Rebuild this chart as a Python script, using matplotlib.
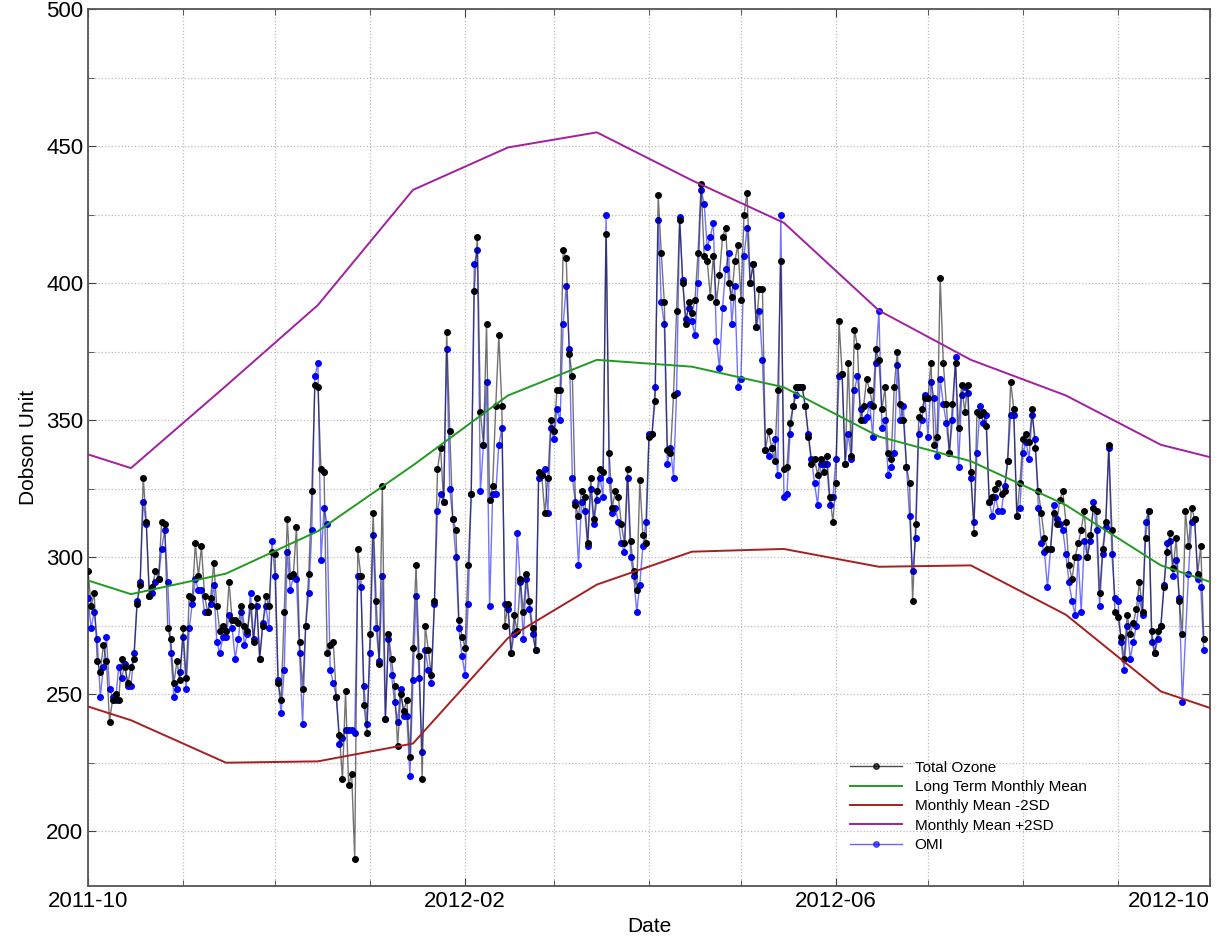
import numpy as np
import pandas as pd
import matplotlib
matplotlib.use("Agg")
import matplotlib.pyplot as plt
import matplotlib.dates as mdates
from matplotlib.ticker import MultipleLocator

plt.rcParams['font.family'] = ['Liberation Sans', 'DejaVu Sans']

# daily total ozone (Dobson Units), starting 2011-10-01
total_ozone = [
    295, 282, 287, 262, 258, 268, 262, 240, 248, 250,
    248, 263, 260, 254, 260, 263, 283, 290, 329, 313,
    286, 289, 295, 292, 313, 312, 274, 270, 254, 262,
    255, 274, 256, 286, 285, 305, 293, 304, 286, 280,
    285, 298, 282, 273, 275, 273, 291, 277, 277, 276,
    282, 275, 273, 282, 269, 285, 263, 275, 286, 282,
    302, 301, 254, 248, 280, 314, 293, 294, 311, 269,
    252, 275, 294, 324, 363, 362, 332, 331, 265, 268,
    269, 249, 235, 219, 251, 217, 221, 190, 303, 293,
    246, 236, 272, 316, 284, 261, 326, 241, 272, 263,
    253, 231, 250, 244, 248, 227, 267, 297, 264, 219,
    275, 266, 257, 284, 332, 340, 320, 382, 346, 314,
    310, 277, 271, 267, 297, 323, 397, 417, 353, 341,
    385, 321, 326, 355, 381, 355, 275, 283, 265, 279,
    273, 292, 280, 294, 284, 274, 266, 331, 330, 316,
    329, 350, 346, 361, 361, 412, 409, 374, 366, 319,
    315, 324, 322, 305, 329, 314, 324, 332, 331, 418,
    338, 318, 324, 322, 312, 305, 332, 306, 295, 288,
    328, 308, 305, 344, 345, 357, 432, 411, 393, 339,
    338, 359, 390, 423, 400, 385, 393, 389, 394, 411,
    436, 410, 408, 395, 410, 393, 403, 417, 420, 400,
    395, 408, 414, 394, 425, 433, 400, 407, 384, 398,
    398, 339, 346, 340, 335, 361, 408, 332, 333, 349,
    355, 362, 362, 362, 355, 344, 334, 336, 330, 336,
    331, 337, 322, 313, 327, 386, 367, 334, 371, 337,
    383, 377, 350, 355, 365, 361, 355, 376, 372, 354,
    362, 338, 336, 362, 375, 356, 350, 333, 327, 284,
    312, 351, 354, 358, 358, 371, 341, 344, 402, 371,
    356, 338, 356, 371, 347, 363, 353, 363, 331, 309,
    353, 352, 353, 348, 320, 322, 325, 327, 323, 324,
    335, 364, 354, 315, 327, 343, 345, 342, 354, 340,
    324, 316, 307, 303, 303, 316, 312, 321, 324, 313,
    297, 292, 300, 305, 310, 317, 300, 308, 318, 317,
    287, 303, 313, 341, 310, 280, 278, 271, 263, 279,
    272, 276, 281, 291, 280, 307, 317, 273, 265, 273,
    275, 289, 302, 309, 296, 307, 284, 272, 317, 304,
    318, 314, 294, 304, 270,
]

# daily OMI satellite values, same days (None = no overpass)
omi = [
    285, 274, 280, 270, 249, 260, 271, 252, 249, 248,
    260, 256, 261, 253, 253, 265, 284, 291, 320, 312,
    286, 287, 291, 292, 303, 310, 291, 265, 249, 252,
    258, 271, 252, 274, 283, 292, 288, 288, 280, 280,
    283, 290, 269, 265, 271, 271, 279, 274, 263, 270,
    280, 268, 272, 287, 270, 282, 263, 276, 282, 274,
    306, 293, 255, 243, 259, 302, 288, 293, 292, 265,
    239, 275, 287, 310, 366, 371, 299, 318, 312, 259,
    254, 249, 232, 234, 237, 237, 237, 236, 293, 289,
    253, 239, 265, 308, 274, 262, 293, 241, 270, 257,
    247, 240, 252, 242, 242, 220, 255, 286, 256, 229,
    266, 259, 254, 283, 317, 323, 320, 376, 325, 314,
    300, 274, 264, 257, 283, 323, 407, 412, 324, 341,
    364, 282, 323, 323, 341, 347, 283, 281, 265, 272,
    309, 291, 270, 292, 281, 272, 266, 329, 330, 332,
    316, 347, 343, 354, 350, 385, 399, 376, 329, 320,
    297, 320, 317, 304, 325, 312, 321, 329, 322, 425,
    328, 316, 318, 313, 305, 302, 329, 300, 293, 280,
    290, 304, 313, 345, 345, 362, 423, 393, 385, 334,
    340, 329, 360, 424, 401, 387, 391, 386, 381, 400,
    434, 429, 413, 417, 422, 379, 369, 391, 405, 411,
    385, 399, 362, 365, 410, 420, 400, 407, 384, 390,
    372, 339, 337, 340, 343, 330, 425, 322, 323, 345,
    355, 359, 362, 362, 355, 345, 336, 327, 319, 334,
    334, 334, 319, 322, 336, 366, 367, 334, 345, 336,
    361, 366, 354, 350, 351, 356, 344, 371, 390, 347,
    350, 330, 333, 338, 370, 350, 355, 333, 315, 295,
    307, 345, 350, 359, 344, 364, 358, 337, 365, 356,
    349, 338, 350, 373, 333, 359, 362, 360, 329, 313,
    338, 355, 349, 352, 320, 315, 322, 317, 317, 326,
    335, 352, 352, 315, 318, 338, 342, 336, 352, 343,
    318, 305, 302, 289, 303, 319, 314, 312, 310, 301,
    291, 284, 279, 300, 280, 306, 300, 306, 320, 310,
    282, 301, 311, 340, 301, 285, 284, 269, 259, 275,
    263, 269, 275, 285, 279, 313, 317, 269, 265, 270,
    275, 290, 305, 306, 293, 299, 285, 247, None, 294,
    313, 314, 292, 289, 266,
]

# long term monthly climatology (mid-month values, plus the two window edges)
clim_dates = ['2011-10-01', '2011-10-15', '2011-11-15', '2011-12-15',
              '2012-01-15', '2012-02-15', '2012-03-15', '2012-04-15',
              '2012-05-15', '2012-06-15', '2012-07-15', '2012-08-15',
              '2012-09-15', '2012-10-01']
clim_mean = [291.5, 286.5, 294, 309.5, 333.5, 359, 372, 369.5,
             362, 344, 335, 319, 297, 291]
clim_minus2sd = [245.5, 240.5, 225, 225.5, 232, 270.5, 290, 302,
                 303, 296.5, 297, 279, 251, 245]
clim_plus2sd = [337.5, 332.5, 362.5, 392, 434, 449.5, 455, 437.5,
                422, 390, 372, 359, 341, 336.5]

days = pd.date_range('2011-10-01', periods=len(total_ozone), freq='D')
omi_s = pd.Series(omi, index=days, dtype=float).dropna()
cdays = pd.to_datetime(clim_dates)

GREEN = '#229a22'
RED = '#a52020'
PURPLE = '#a0209f'

fig = plt.figure(figsize=(12.28, 9.51), dpi=100)
ax = fig.add_axes([0.0717, 0.0683, 0.9136, 0.9222])

ax.plot(omi_s.index, omi_s.values, color='blue', lw=1.0, alpha=0.55, zorder=2)
ax.plot(omi_s.index, omi_s.values, ls='none', marker='o', ms=4, color='blue', zorder=3)
ax.plot(days, total_ozone, color='black', lw=1.0, alpha=0.55, zorder=4)
ax.plot(days, total_ozone, ls='none', marker='o', ms=4, color='black', zorder=4)
ax.plot(cdays, clim_mean, color=GREEN, lw=1.4, zorder=5)
ax.plot(cdays, clim_minus2sd, color=RED, lw=1.4, zorder=5)
ax.plot(cdays, clim_plus2sd, color=PURPLE, lw=1.4, zorder=5)

# legend proxies
h_tot, = ax.plot([], [], color='black', lw=1.0, marker='o', ms=4, alpha=0.7)
h_mean, = ax.plot([], [], color=GREEN, lw=1.4)
h_min, = ax.plot([], [], color=RED, lw=1.4)
h_max, = ax.plot([], [], color=PURPLE, lw=1.4)
h_omi, = ax.plot([], [], color='blue', lw=1.0, marker='o', ms=4, alpha=0.6)
ax.legend([h_tot, h_mean, h_min, h_max, h_omi],
          ['Total Ozone', 'Long Term Monthly Mean', 'Monthly Mean -2SD',
           'Monthly Mean +2SD', 'OMI'],
          loc='upper left', bbox_to_anchor=(0.67, 0.155), frameon=False,
          fontsize=11, handlelength=3.4, labelspacing=0.35, borderpad=0.2)

ax.set_xlim(pd.Timestamp('2011-10-01'), pd.Timestamp('2012-10-01'))
ax.set_ylim(180, 500)
ax.xaxis.set_major_locator(mdates.MonthLocator(bymonth=[2, 6, 10]))
ax.xaxis.set_major_formatter(mdates.DateFormatter('%Y-%m'))
ax.xaxis.set_minor_locator(mdates.MonthLocator())
ax.yaxis.set_major_locator(MultipleLocator(50))
ax.yaxis.set_minor_locator(MultipleLocator(25))
ax.grid(which='both', color='#bbbbbb', ls=':', lw=0.9)
ax.tick_params(which='both', direction='in', top=True, right=True,
               labelsize=16, color='#444444')
ax.tick_params(which='major', length=6)
ax.tick_params(which='minor', length=4)
for s in ax.spines.values():
    s.set_color('#555555')
    s.set_linewidth(1.3)

ax.set_xlabel('Date', fontsize=15, labelpad=4)
ax.set_ylabel('Dobson Unit', fontsize=15, labelpad=6)

fig.canvas.draw()
xlabels = ax.get_xticklabels()
xlabels[-1].set_horizontalalignment('right')

fig.savefig('out.png', dpi=100)
